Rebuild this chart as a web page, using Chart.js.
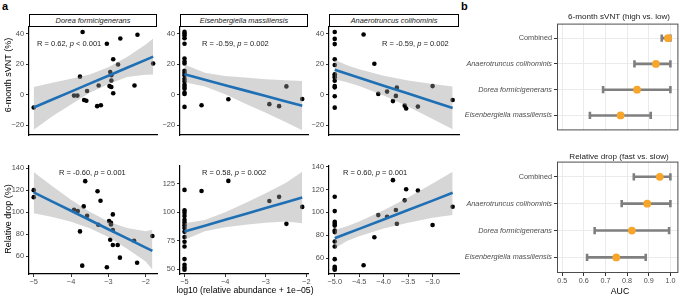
<!DOCTYPE html>
<html>
<head>
<meta charset="utf-8">
<script src="https://cdn.jsdelivr.net/npm/chart.js@4.4.1/dist/chart.umd.min.js"></script>
<style>
  body { margin:0; width:685px; height:297px; position:relative; overflow:hidden; background:#fff;
         font-family:"Liberation Sans", Arial, Helvetica, sans-serif; color:#000; }
  canvas { position:absolute; }
  .lbl { position:absolute; white-space:nowrap; transform:translate(-50%,-50%); }
  .strip { position:absolute; box-sizing:border-box; border:1.2px solid #000; font-style:italic;
           font-size:7.4px; text-align:center; color:#1a1a1a; }
  .stat { position:absolute; font-size:7.5px; white-space:nowrap; transform:translateY(-50%); color:#1a1a1a; }
  .tag { position:absolute; font-weight:bold; font-size:11px; }
</style>
</head>
<body>
<div class="tag" style="left:2px;top:0px;">a</div>
<div class="tag" style="left:461px;top:0px;">b</div>

<div class="strip" style="left:29px;top:14px;width:128px;height:13px;line-height:11px;">Dorea formicigenerans</div>
<div class="strip" style="left:180px;top:14px;width:128px;height:13px;line-height:11px;">Eisenbergiella massiliensis</div>
<div class="strip" style="left:329px;top:14px;width:130px;height:13px;line-height:11px;">Anaerotruncus colihominis</div>

<canvas id="p1"></canvas>
<canvas id="p2"></canvas>
<canvas id="p3"></canvas>
<canvas id="p4"></canvas>
<canvas id="p5"></canvas>
<canvas id="p6"></canvas>
<canvas id="f1"></canvas>
<canvas id="f2"></canvas>

<div class="stat" style="left:37px;top:43px;">R = 0.62, <i>p</i> &lt; 0.001</div>
<div class="stat" style="left:202px;top:43px;">R = -0.59, <i>p</i> = 0.002</div>
<div class="stat" style="left:382px;top:43px;">R = -0.59, <i>p</i> = 0.002</div>
<div class="stat" style="left:59px;top:172px;">R = -0.60, <i>p</i> = 0.001</div>
<div class="stat" style="left:202px;top:172px;">R = 0.58, <i>p</i> = 0.002</div>
<div class="stat" style="left:343px;top:172px;">R = 0.60, <i>p</i> = 0.001</div>

<div class="lbl" style="left:8px;top:75px;font-size:9px;transform:translate(-50%,-50%) rotate(-90deg);">6-month sVNT (%)</div>
<div class="lbl" style="left:8px;top:219px;font-size:9px;transform:translate(-50%,-50%) rotate(-90deg);">Relative drop (%)</div>
<div class="lbl" style="left:245px;top:290px;font-size:8.7px;">log10 (relative abundance + 1e−05)</div>
<div class="lbl" style="left:620px;top:291px;font-size:8.7px;">AUC</div>
<div class="lbl" style="left:619px;top:16px;font-size:8.1px;color:#1a1a1a;">6-month sVNT (high vs. low)</div>
<div class="lbl" style="left:619px;top:156px;font-size:8.1px;color:#1a1a1a;">Relative drop (fast vs. slow)</div>

<script>
// ---------- panel a: 6-month sVNT ----------
const svntDoreaX = [-5, -3.69, -3.76, -3.92, -3.83, -3.65, -3.59, -3.57, -3.3, -3.2, -3.26, -3.04, -2.95, -2.92, -2.92, -2.97, -2.92, -2.87, -2.87, -2.74, -2.68, -2.3, -2.22, -1.8];
const svntDoreaY = [-8.4, 41, 11.8, -0.6, -0.6, -3.5, -4, 2.4, -7.5, -6.9, 6, 33.3, 14.8, 12.7, 9.2, 5.6, 5, 23.2, 0.9, 19.8, 36.8, 6, 39.2, 20.4];
const svntDoreaBandX = [-5, -4.5, -4, -3.5, -3, -2.5, -2, -1.8];
const svntDoreaFit = [-8.4, -3.2, 2.0, 7.2, 12.4, 17.6, 22.8, 24.9];
const svntDoreaLo = [-23, -14.2, -6.5, 1.2, 6.9, 11.5, 13.0, 13.2];
const svntDoreaHi = [5, 7.8, 10.5, 13.2, 17.9, 24.6, 32.8, 36.8];

const svntEisX = [-5, -5, -5, -5, -5, -5, -5, -5, -5, -5, -5, -5, -5, -5, -5, -5, -5, -5, -5, -4.58, -3.92, -2.49, -2.91, -2.67, -2.1];
const svntEisY = [41.1, 39.8, 38.7, 37, 33.3, 23.7, 21.7, 20.4, 15.7, 14.2, 12.7, 10.3, 8.6, 6.5, 5.2, 3.9, 1.3, 0.5, -8, -6.9, -3, 5.4, -6.2, -7.5, -2.8];
const svntEisBandX = [-5, -4.5, -4, -3.5, -3, -2.5, -2.1];
const svntEisFit = [13.3, 9.75, 6.2, 2.65, -0.9, -4.45, -7.3];
const svntEisLo = [8.2, 5.3, 0.2, -5.9, -11.9, -18, -23.3];
const svntEisHi = [19.8, 14.3, 12.2, 11.2, 10.1, 9.5, 8.9];

const svntAnaX = [-5, -5, -5, -5, -5, -5, -5, -5, -5, -5, -5, -5, -5, -4.41, -4.19, -4.11, -3.93, -3.81, -3.75, -3.73, -3.57, -3.54, -3.3, -3.0, -2.59];
const svntAnaY = [41, 36.5, 33.1, 23.2, 19.4, 13.3, 12.3, 11.2, 9.1, 5.6, 4.8, -1, -8.5, 39.4, 20.2, 0.5, 2, -4.2, -0.8, 4.6, -7.2, -9.1, -7.8, 5.6, -3.5];
const svntAnaBandX = [-5, -4.75, -4.5, -4, -3.5, -3, -2.59];
const svntAnaFit = [16.3, 13.7, 11.1, 5.9, 0.7, -4.5, -8.7];
const svntAnaLo = [10.1, 8.2, 5.6, -0.6, -7.8, -16, -22.7];
const svntAnaHi = [22.8, 19.2, 16.6, 12.4, 9.2, 7, 5.3];

// ---------- panel a: relative drop ----------
const dropDoreaX = [-5, -5, -3.92, -3.82, -3.66, -3.62, -3.57, -3.76, -3.7, -3.29, -3.21, -3.27, -3.04, -2.98, -2.93, -2.93, -2.88, -2.88, -2.95, -2.88, -2.75, -2.69, -2.31, -2.23, -1.82];
const dropDoreaY = [120, 113.6, 102.1, 100.9, 105.2, 128.2, 96.6, 82.4, 51.2, 119, 110.3, 88.5, 49.7, 91.8, 90.3, 88.8, 97.9, 83.6, 74.8, 70, 70, 58.5, 73.9, 53.9, 78.2];
const dropDoreaBandX = [-5, -4.5, -4, -3.5, -3, -2.5, -2, -1.82];
const dropDoreaFit = [118, 109.6, 101.2, 92.8, 84.4, 76, 67.6, 64.6];
const dropDoreaLo = [99, 95.6, 91.2, 85.3, 77.4, 66.5, 55, 47.5];
const dropDoreaHi = [136.6, 123.6, 111.2, 100.3, 91.4, 85.5, 82.5, 84];

const dropEisX = [-5, -5, -5, -5, -5, -5, -5, -5, -5, -5, -5, -5, -5, -5, -5, -5, -4.58, -3.92, -2.91, -2.67, -2.49, -2.1];
const dropEisY = [119.7, 101.9, 99.6, 96.9, 93.4, 91.1, 88.8, 86.2, 82.9, 78.3, 74.2, 70.1, 59, 54, 51.7, 49.7, 118.8, 127.6, 110, 113.6, 89.9, 104.8];
const dropEisBandX = [-5, -4.5, -4, -3.5, -3, -2.5, -2.1];
const dropEisFit = [83.2, 88.35, 93.5, 98.65, 103.8, 108.95, 113];
const dropEisLo = [75.9, 83.4, 87, 89.2, 90.8, 92, 90.5];
const dropEisHi = [90.5, 93.4, 100, 108.2, 116.8, 126, 135.7];

const dropAnaX = [-5, -5, -5, -5, -5, -5, -5, -5, -5, -5, -5, -5, -5, -4.41, -4.19, -4.11, -3.93, -3.81, -3.75, -3.73, -3.57, -3.54, -3.3, -3.0, -2.59];
const dropAnaY = [113.6, 101.1, 91.8, 90.1, 88.4, 84.1, 82.7, 74.5, 70.1, 59, 52.4, 50.9, 49.8, 53.7, 78.2, 97.6, 96.2, 128.2, 102, 90, 110.5, 120.3, 119.2, 88.9, 104.9];
const dropAnaBandX = [-5, -4.75, -4.5, -4, -3.5, -3, -2.59];
const dropAnaFit = [77.3, 81.4, 85.55, 93.8, 102, 110.3, 117.1];
const dropAnaLo = [68.6, 74.9, 79, 85.8, 91, 95.3, 97.6];
const dropAnaHi = [84.5, 87.9, 92, 101.8, 113, 125.3, 135.5];

// tick labels
const svntTicks = [-20, 0, 20, 40];
const dropTicks = [60, 80, 100, 120, 140];
const dropEisTicks = [50, 75, 100, 125];
const xTicksWide = [-5, -4, -3, -2];
const xTicksNarrow = [-5, -4.5, -4, -3.5, -3];

// ---------- panel b: AUC ----------
const aucRows = ["Combined", "Anaerotruncus colihominis", "Dorea formicigenerans", "Eisenbergiella massiliensis"];
const svntAuc = [0.989, 0.933, 0.846, 0.77];
const svntLow = [0.96, 0.834, 0.689, 0.628];
const svntHigh = [1.0, 1.0, 1.0, 0.909];
const dropAuc = [0.951, 0.893, 0.822, 0.75];
const dropLow = [0.831, 0.775, 0.65, 0.615];
const dropHigh = [1.0, 1.0, 0.994, 0.886];
const aucTicks = [0.5, 0.6, 0.7, 0.8, 0.9, 1.0];

Chart.defaults.font.family = '"Liberation Sans", Arial, Helvetica, sans-serif';
Chart.defaults.animation = false;

const minus = v => String(v).replace('-', '\u2212');

function sizeCanvas(id, left, top, w, h) {
    const cv = document.getElementById(id);
    cv.width = w;
    cv.height = h;
    cv.style.left = left + 'px';
    cv.style.top = top + 'px';
    return cv;
}

function scatterPanel(id, box, xs, ys, bandX, fit, lo, hi, xRange, yRange, yTicks, xTicks, xFmt) {
    const yW = 26, padT = 6, padR = 4, xH = xTicks ? 15 : 2;
    const cv = sizeCanvas(id, box.l - yW, box.t - padT, yW + box.r - box.l + padR, padT + box.b - box.t + xH);
    const pts = xs.map((x, i) => ({x: x, y: ys[i]}));
    const along = arr => bandX.map((x, i) => ({x: x, y: arr[i]}));

    new Chart(cv, {
        type: 'scatter',
        data: {
            datasets: [
                { data: along(fit), showLine: true, borderColor: '#1f6fb5', borderWidth: 2.6, pointRadius: 0 },
                { data: along(hi), showLine: true, borderWidth: 0, borderColor: 'transparent', pointRadius: 0,
                  fill: '+1', backgroundColor: 'rgba(153,153,153,0.4)' },
                { data: along(lo), showLine: true, borderWidth: 0, borderColor: 'transparent', pointRadius: 0 },
                { data: pts, backgroundColor: '#000', pointRadius: 2.3, borderWidth: 0 }
            ]
        },
        options: {
            responsive: false,
            devicePixelRatio: 1,
            events: [],
            layout: { padding: { top: padT, right: padR, left: 0, bottom: 0 } },
            plugins: { legend: { display: false }, tooltip: { enabled: false } },
            scales: {
                x: {
                    type: 'linear', min: xRange[0], max: xRange[1],
                    border: { display: true, color: '#000', width: 1.2 },
                    grid: { display: !!xTicks, drawOnChartArea: false, tickLength: 3, color: '#333' },
                    ticks: { display: !!xTicks, color: '#4d4d4d', font: { size: 7.4 }, padding: 1,
                             maxRotation: 0, callback: v => minus(xFmt ? v.toFixed(1) : v) },
                    afterBuildTicks: s => { if (xTicks) s.ticks = xTicks.map(v => ({value: v})); },
                    afterFit: s => { s.height = xH; s.paddingLeft = 0; s.paddingRight = 0; }
                },
                y: {
                    type: 'linear', min: yRange[0], max: yRange[1],
                    border: { display: true, color: '#000', width: 1.2 },
                    grid: { drawOnChartArea: false, tickLength: 3, color: '#333' },
                    ticks: { color: '#4d4d4d', font: { size: 7.4 }, padding: 2, callback: v => minus(v) },
                    afterBuildTicks: s => { s.ticks = yTicks.map(v => ({value: v})); },
                    afterFit: s => { s.width = yW; s.paddingTop = 0; s.paddingBottom = 0; }
                }
            }
        }
    });
}

// frame around the forest plot panels
const panelBox = {
    id: 'panelBox',
    afterDraw(chart) {
        const a = chart.chartArea, ctx = chart.ctx;
        ctx.save();
        ctx.strokeStyle = '#4d4d4d';
        ctx.lineWidth = 1;
        ctx.strokeRect(a.left + 0.5, a.top + 0.5, a.right - a.left - 1, a.bottom - a.top - 1);
        ctx.restore();
    }
};

function forestPanel(id, box, auc, low, high, showX) {
    const left = 460, yW = box.l - left, padT = 6, padR = 685 - box.r, xH = showX ? 13 : 2;
    const cv = sizeCanvas(id, left, box.t - padT, 685 - left, padT + box.b - box.t + xH);
    const bars = low.map((lo, i) => ({
        type: 'line', showLine: true,
        data: [{x: lo, y: i}, {x: high[i], y: i}],
        borderColor: '#7f7f7f', borderWidth: 2.6,
        pointStyle: 'line', pointRotation: 90, pointRadius: 3.6,
        pointBorderWidth: 2.6, pointBorderColor: '#7f7f7f'
    }));

    new Chart(cv, {
        type: 'scatter',
        data: {
            datasets: [
                { data: auc.map((a, i) => ({x: a, y: i})), backgroundColor: '#f7a62b', pointRadius: 3.9, borderWidth: 0 },
                ...bars
            ]
        },
        options: {
            responsive: false,
            devicePixelRatio: 1,
            events: [],
            layout: { padding: { top: padT, right: padR, left: 0, bottom: 0 } },
            plugins: { legend: { display: false }, tooltip: { enabled: false } },
            scales: {
                x: {
                    type: 'linear', min: 0.476, max: 1.037,
                    border: { display: false },
                    grid: { color: '#ebebeb', lineWidth: 1, drawTicks: showX, tickLength: 3, tickColor: '#333' },
                    ticks: { display: showX, color: '#4d4d4d', font: { size: 7.2 }, padding: 1, maxRotation: 0,
                             callback: v => v.toFixed(1) },
                    afterBuildTicks: s => { s.ticks = aucTicks.map(v => ({value: v})); },
                    afterFit: s => { s.height = xH; s.paddingLeft = 0; s.paddingRight = 0; }
                },
                y: {
                    type: 'linear', min: -0.565, max: 3.58, reverse: true,
                    border: { display: false },
                    grid: { color: '#ebebeb', lineWidth: 1, tickLength: 3, tickColor: '#333' },
                    ticks: {
                        color: '#4d4d4d', padding: 2,
                        font: c => ({ size: 7.3, style: c.index === 0 ? 'normal' : 'italic' }),
                        callback: v => aucRows[v]
                    },
                    afterBuildTicks: s => { s.ticks = aucRows.map((r, i) => ({value: i})); },
                    afterFit: s => { s.width = yW; s.paddingTop = 0; s.paddingBottom = 0; }
                }
            }
        },
        plugins: [panelBox]
    });
}

const topRow = { t: 27, b: 137 }, botRow = { t: 166, b: 274 };

scatterPanel('p1', { l: 29, r: 157, ...topRow }, svntDoreaX, svntDoreaY, svntDoreaBandX, svntDoreaFit, svntDoreaLo, svntDoreaHi,
    [-5.126, -1.697], [-26.4, 44.3], svntTicks, null);
scatterPanel('p2', { l: 180, r: 308, ...topRow }, svntEisX, svntEisY, svntEisBandX, svntEisFit, svntEisLo, svntEisHi,
    [-5.111, -1.958], [-26.4, 44.3], svntTicks, null);
scatterPanel('p3', { l: 329, r: 459, ...topRow }, svntAnaX, svntAnaY, svntAnaBandX, svntAnaFit, svntAnaLo, svntAnaHi,
    [-5.117, -2.46], [-26.4, 44.3], svntTicks, null);

scatterPanel('p4', { l: 29, r: 157, ...botRow }, dropDoreaX, dropDoreaY, dropDoreaBandX, dropDoreaFit, dropDoreaLo, dropDoreaHi,
    [-5.126, -1.697], [43.6, 142], dropTicks, xTicksWide);
scatterPanel('p5', { l: 180, r: 308, ...botRow }, dropEisX, dropEisY, dropEisBandX, dropEisFit, dropEisLo, dropEisHi,
    [-5.111, -1.958], [45.9, 140.7], dropEisTicks, xTicksWide);
scatterPanel('p6', { l: 329, r: 459, ...botRow }, dropAnaX, dropAnaY, dropAnaBandX, dropAnaFit, dropAnaLo, dropAnaHi,
    [-5.117, -2.46], [46, 140.6], dropTicks, xTicksNarrow, true);

forestPanel('f1', { l: 557, r: 684, t: 23, b: 135 }, svntAuc, svntLow, svntHigh, false);
forestPanel('f2', { l: 557, r: 684, t: 161, b: 273 }, dropAuc, dropLow, dropHigh, true);
</script>
</body>
</html>
